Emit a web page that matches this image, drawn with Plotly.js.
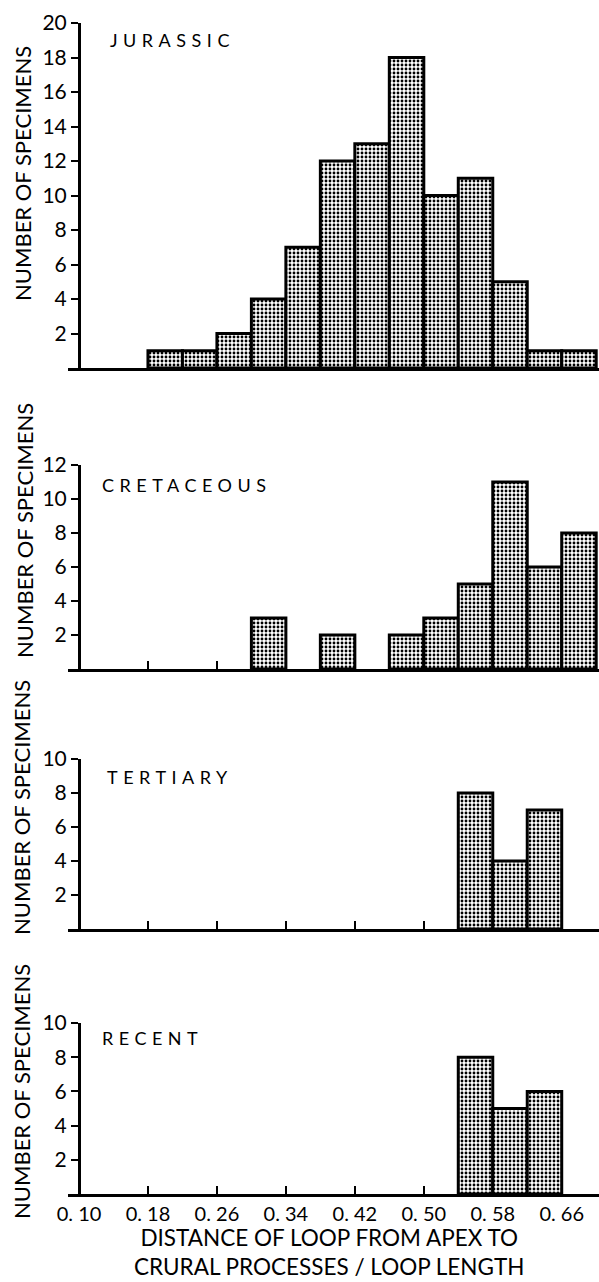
<!DOCTYPE html>
<html>
<head>
<meta charset="utf-8">
<script src="https://cdn.plot.ly/plotly-3.0.1.min.js"></script>
<style>
  html, body { margin: 0; padding: 0; background: #fff; }
  #chart { width: 599px; height: 1282px; }
</style>
</head>
<body>
<div id="chart"></div>
<script>
// ---- data (bin lower edges, bin width 0.04) ----
var binWidth = 0.04;

var jurassicBins   = [0.18, 0.22, 0.26, 0.30, 0.34, 0.38, 0.42, 0.46, 0.50, 0.54, 0.58, 0.62, 0.66];
var jurassicCounts = [1, 1, 2, 4, 7, 12, 13, 18, 10, 11, 5, 1, 1];

var cretaceousBins   = [0.30, 0.38, 0.46, 0.50, 0.54, 0.58, 0.62, 0.66];
var cretaceousCounts = [3, 2, 2, 3, 5, 11, 6, 8];

var tertiaryBins   = [0.54, 0.58, 0.62];
var tertiaryCounts = [8, 4, 7];

var recentBins   = [0.54, 0.58, 0.62];
var recentCounts = [8, 5, 6];

var panelNames = ['JURASSIC', 'CRETACEOUS', 'TERTIARY', 'RECENT'];

var xTickVals  = [0.10, 0.18, 0.26, 0.34, 0.42, 0.50, 0.58, 0.66];
var xTickText  = ['0. 10', '0. 18', '0. 26', '0. 34', '0. 42', '0. 50', '0. 58', '0. 66'];

var jurassicYTicks   = [2, 4, 6, 8, 10, 12, 14, 16, 18, 20];
var cretaceousYTicks = [2, 4, 6, 8, 10, 12];
var tertiaryYTicks   = [2, 4, 6, 8, 10];
var recentYTicks     = [2, 4, 6, 8, 10];

var yTitle = 'NUMBER OF SPECIMENS';
var xTitle = 'DISTANCE OF LOOP FROM APEX TO<br>CRURAL PROCESSES / LOOP LENGTH';

// ---- styling ----
var FONT = 'Lato, "Open Sans", "DejaVu Sans", sans-serif';
var W = 599, H = 1282, L = 68;
var yAxisPx = 79;          // pixel x of y axes
var pxPerUnit = 862;
var xRange = [0.10 - (yAxisPx - L) / pxPerUnit, 0.10 + (W - yAxisPx) / pxPerUnit];
var yPos = (yAxisPx - L) / (W - L);

function dom(bottomPx, topPx) { return [1 - bottomPx / H, 1 - topPx / H]; }

function barTrace(x, y, xa, ya) {
  return {
    type: 'bar', x: x, y: y, width: binWidth, offset: 0,
    xaxis: xa, yaxis: ya,
    marker: {
      color: 'white',
      line: { color: 'black', width: 3 },
      pattern: { shape: '.', fgcolor: 'black', bgcolor: 'white', size: 4, solidity: 0.4 }
    },
    hoverinfo: 'x+y', showlegend: false
  };
}

var data = [
  barTrace(jurassicBins, jurassicCounts, 'x4', 'y4'),
  barTrace(cretaceousBins, cretaceousCounts, 'x3', 'y3'),
  barTrace(tertiaryBins, tertiaryCounts, 'x2', 'y2'),
  barTrace(recentBins, recentCounts, 'x', 'y')
];

function xAxis(anchor, labels) {
  return {
    anchor: anchor, range: xRange, showgrid: false, zeroline: false,
    showline: true, linecolor: 'black', linewidth: 3,
    ticks: 'inside', ticklen: 8, tickwidth: 2, tickcolor: 'black',
    tickvals: xTickVals, ticktext: xTickText, showticklabels: labels,
    tickfont: { family: FONT, size: 20, color: 'black' }
  };
}
function yAxis(domain, range, tickvals) {
  return {
    anchor: 'free', position: yPos, domain: domain, range: range,
    showgrid: false, zeroline: false,
    showline: true, linecolor: 'black', linewidth: 3,
    ticks: 'outside', ticklen: 7, tickwidth: 2, tickcolor: 'black',
    tickvals: tickvals, ticktext: tickvals.map(String),
    tickfont: { family: FONT, size: 21, color: 'black' }
  };
}

function panelLabel(text, xPx, yPx) {
  return {
    xref: 'paper', yref: 'paper', showarrow: false,
    x: (xPx - L) / (W - L), y: 1 - yPx / H, xanchor: 'left', yanchor: 'middle',
    text: '<span style="letter-spacing:5.5px">' + text + '</span>',
    font: { family: FONT, size: 18, color: 'black' }
  };
}
function yLabel(xPx, yPx) {
  return {
    xref: 'paper', yref: 'paper', showarrow: false, textangle: -90,
    x: (xPx - L) / (W - L), y: 1 - yPx / H, xanchor: 'center', yanchor: 'middle',
    text: yTitle, font: { family: FONT, size: 22, color: 'black' }
  };
}

var layout = {
  width: W, height: H,
  margin: { l: L, r: 0, t: 0, b: 0 },
  paper_bgcolor: 'white', plot_bgcolor: 'white',
  bargap: 0,
  xaxis:  xAxis('y', true),
  xaxis2: xAxis('y2', false),
  xaxis3: xAxis('y3', false),
  xaxis4: xAxis('y4', false),
  yaxis:  yAxis(dom(1194, 1023), [0, 10], recentYTicks),
  yaxis2: yAxis(dom(929, 759), [0, 10], tertiaryYTicks),
  yaxis3: yAxis(dom(669, 465), [0, 12], cretaceousYTicks),
  yaxis4: yAxis(dom(368, 23), [0, 20], jurassicYTicks),
  annotations: [
    panelLabel(panelNames[0], 108, 40),
    panelLabel(panelNames[1], 100, 485),
    panelLabel(panelNames[2], 105, 777),
    panelLabel(panelNames[3], 100, 1038),
    yLabel(23, 174),
    yLabel(24, 531),
    yLabel(21, 808),
    yLabel(21, 1092),
    {
      xref: 'paper', yref: 'paper', showarrow: false,
      x: (329 - L) / (W - L), y: 1 - 1281 / H, xanchor: 'center', yanchor: 'bottom',
      text: xTitle, align: 'center', borderpad: 0,
      font: { family: FONT, size: 22.5, color: 'black' }
    }
  ]
};

Plotly.newPlot('chart', data, layout, { displayModeBar: false, staticPlot: true });
</script>
</body>
</html>
